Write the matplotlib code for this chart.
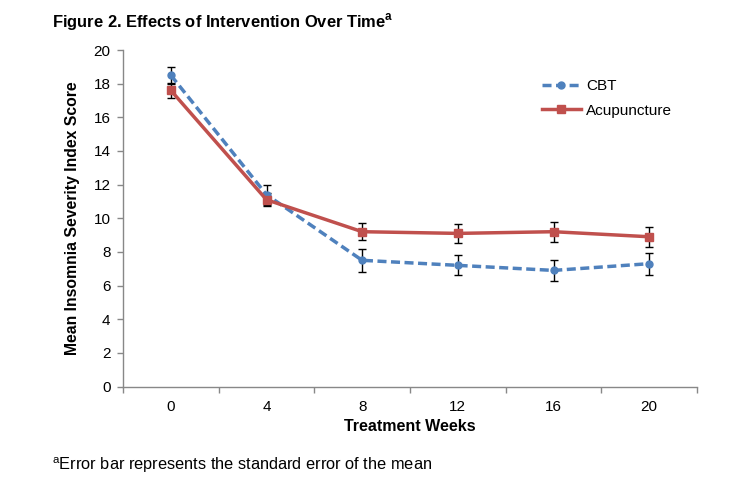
import matplotlib
matplotlib.use("Agg")
import matplotlib.pyplot as plt
import numpy as np

plt.rcParams['font.family'] = ['Liberation Sans', 'DejaVu Sans']

weeks = ["0", "4", "8", "12", "16", "20"]
cbt = [18.5, 11.4, 7.5, 7.2, 6.9, 7.3]
cbt_se = [0.5, 0.6, 0.7, 0.6, 0.6, 0.65]
acu = [17.6, 11.1, 9.2, 9.1, 9.2, 8.9]
acu_se = [0.45, 0.4, 0.5, 0.55, 0.6, 0.6]
yticks = [0, 2, 4, 6, 8, 10, 12, 14, 16, 18, 20]

blue = '#4F81BD'
red = '#C0504D'

fig = plt.figure(figsize=(7.29, 4.97), dpi=100)
ax = fig.add_axes([123/729, 1-386.5/497, (697-123)/729, (386.5-50)/497])

x = np.arange(len(weeks))
ax.errorbar(x, cbt, yerr=cbt_se, fmt='none', ecolor='black', elinewidth=1.0,
            capsize=3, capthick=1.0, zorder=3)
ax.errorbar(x, acu, yerr=acu_se, fmt='none', ecolor='black', elinewidth=1.0,
            capsize=3, capthick=1.0, zorder=3)
ax.plot(x, cbt, color=blue, lw=2.5, ls=(0, (2.6, 1.3)), marker='o', ms=5,
        label='CBT', zorder=4)
ax.plot(x, acu, color=red, lw=2.5, marker='s', ms=5.5, label='Acupuncture', zorder=4)

ax.set_xlim(-0.5, len(weeks) - 0.5)
ax.set_ylim(0, 20)
ax.set_yticks(yticks)
ax.set_yticklabels([str(v) for v in yticks], fontsize=11)
ax.set_xticks(x)
ax.set_xticklabels(weeks, fontsize=11)
ax.set_xticks(np.arange(-0.5, len(weeks), 1.0), minor=True)
ax.tick_params(axis='x', which='major', length=0, pad=10)
ax.tick_params(axis='x', which='minor', length=4, color='#888888', width=1, direction='out')
ax.tick_params(axis='y', length=4, color='#888888', width=1, direction='out', pad=5)

for s in ['top', 'right']:
    ax.spines[s].set_visible(False)
for s in ['left', 'bottom']:
    ax.spines[s].set_color('#888888')
    ax.spines[s].set_linewidth(1.0)

ax.set_xlabel('Treatment Weeks', fontsize=11.5, fontweight='bold', labelpad=3)
ax.set_ylabel('Mean Insomnia Severity Index Score', fontsize=11.3, fontweight='bold', labelpad=10)

leg = ax.legend(loc='upper left', bbox_to_anchor=(0.706, 0.955), frameon=False,
                fontsize=11, handlelength=2.55, labelspacing=0.7, handletextpad=0.33)

fig.text(52/729, 1-27/497, 'Figure 2. Effects of Intervention Over Time$^{\\mathregular{a}}$',
         fontsize=11.9, fontweight='bold', va='baseline', ha='left')
fig.text(52/729, 1-470/497, '$^{\\mathregular{a}}$Error bar represents the standard error of the mean',
         fontsize=11.8, va='baseline', ha='left')

fig.savefig('out.png', dpi=100)
